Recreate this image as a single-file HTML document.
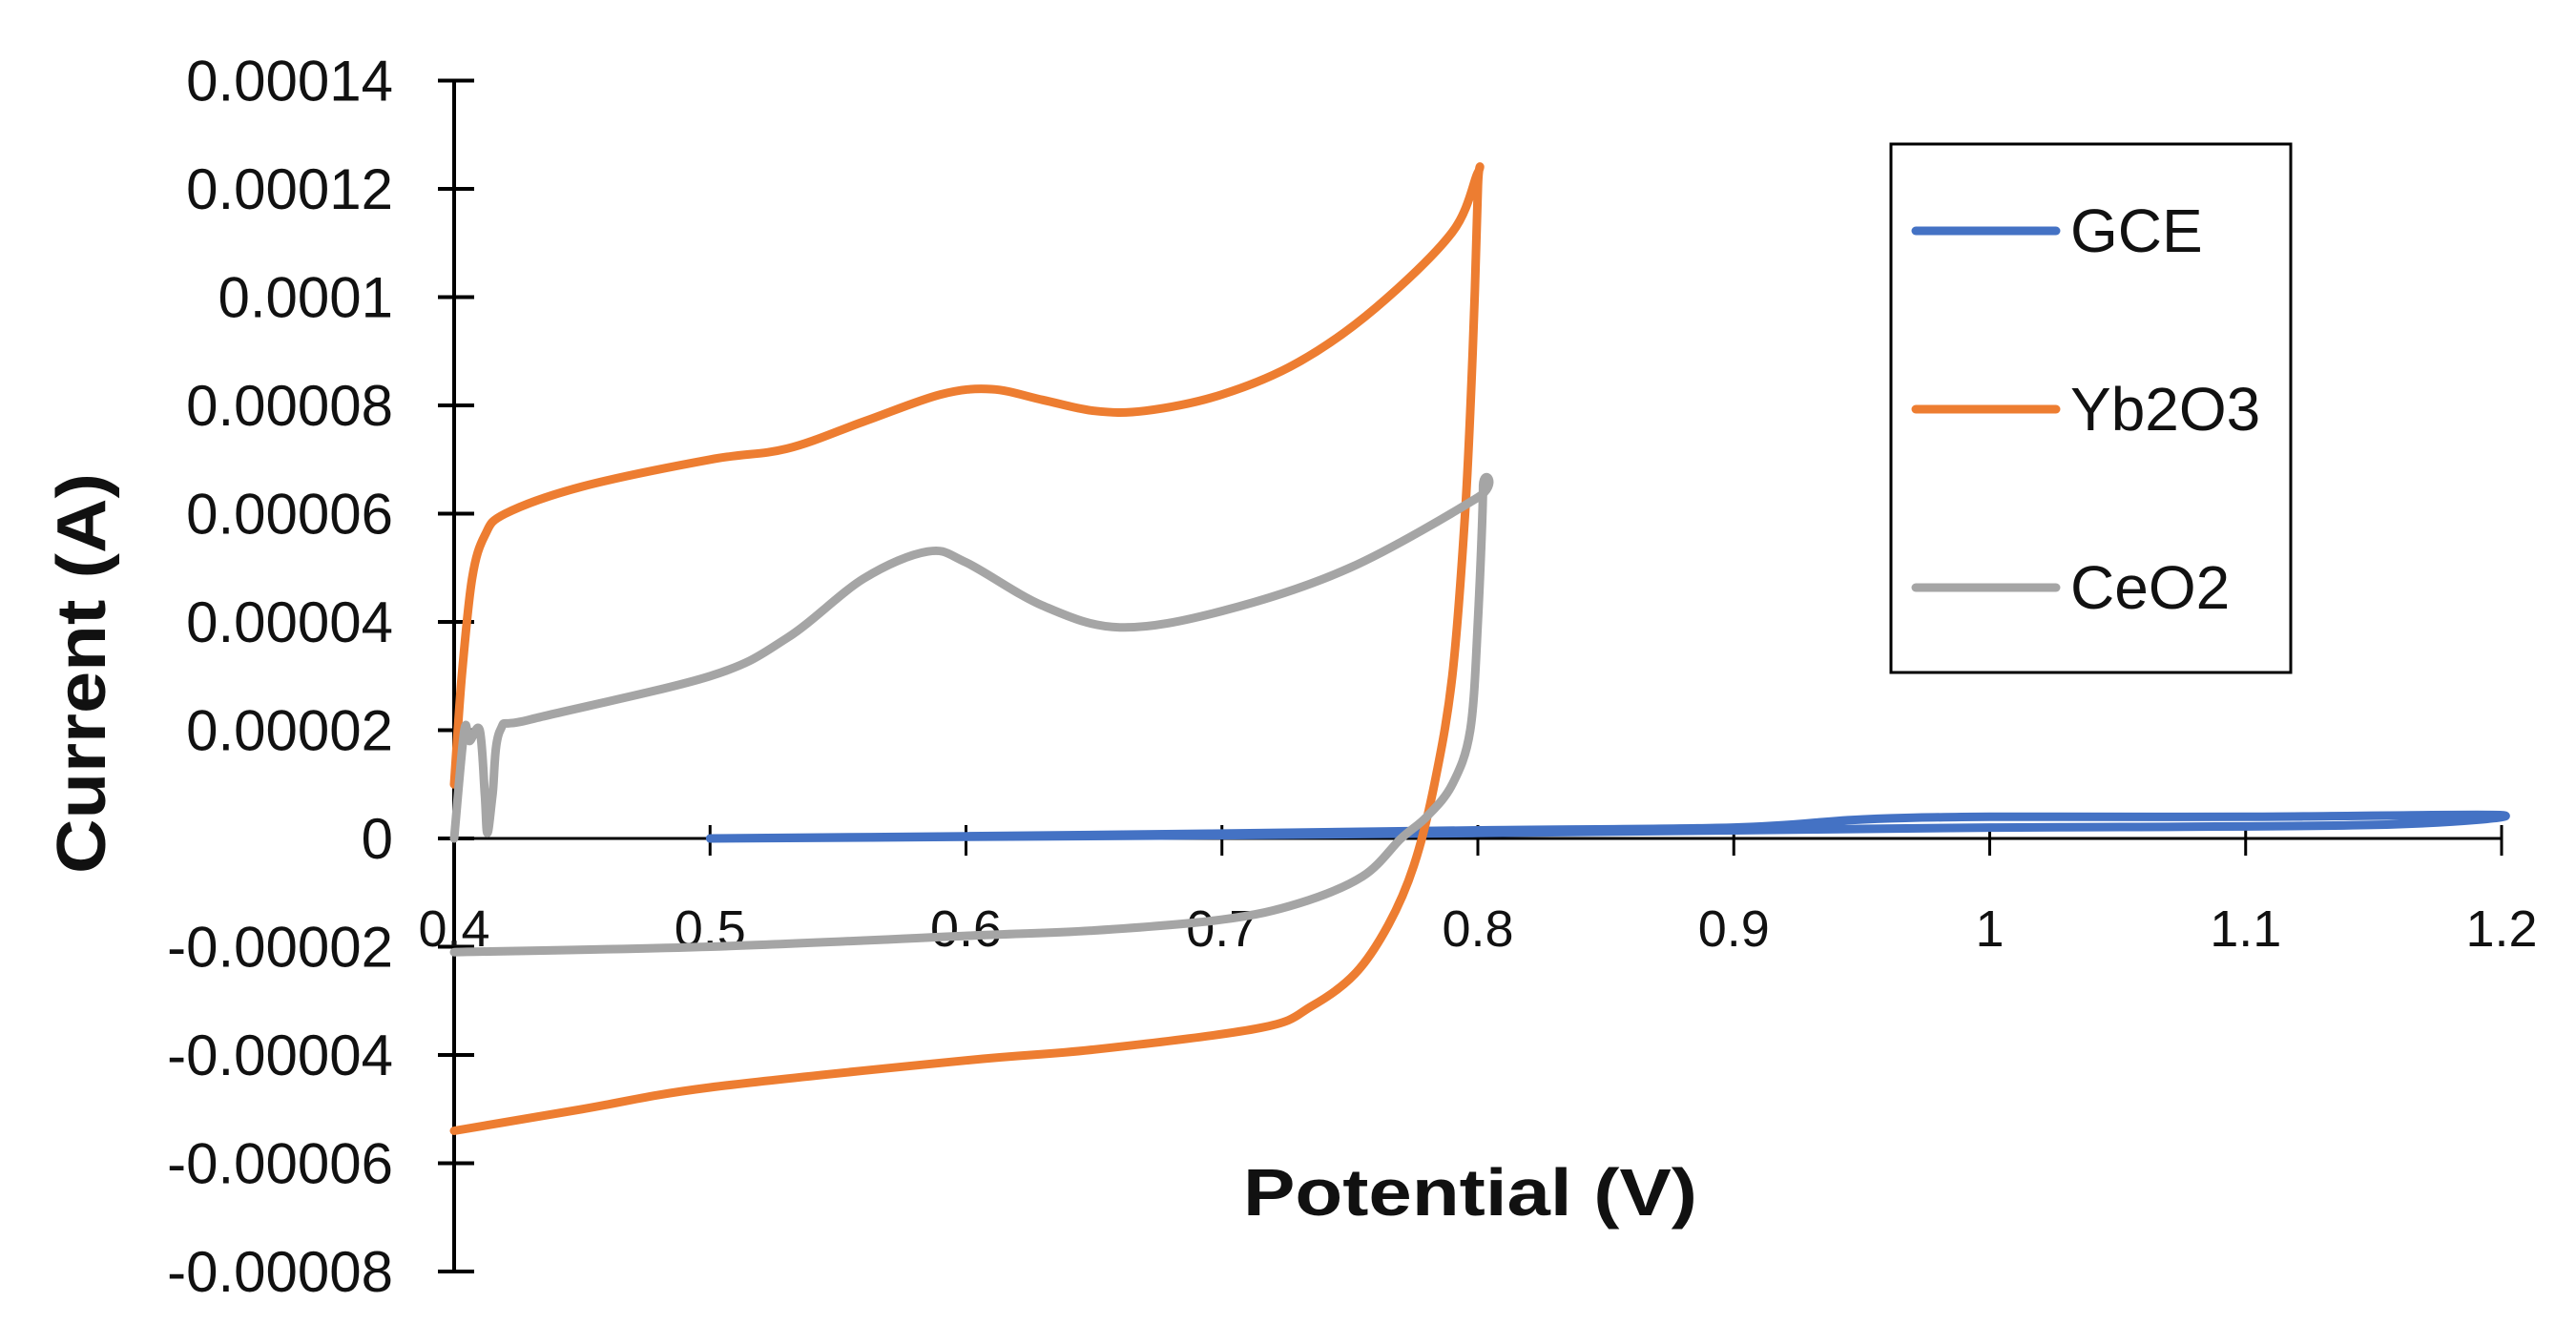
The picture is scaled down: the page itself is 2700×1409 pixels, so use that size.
<!DOCTYPE html>
<html><head><meta charset="utf-8">
<style>
html,body{margin:0;padding:0;background:#fff;}
svg{display:block;}
text{font-family:"Liberation Sans",sans-serif;fill:#111;}
</style></head>
<body>
<svg id="chart" width="2700" height="1409" viewBox="0 0 2700 1409">
<g id="axes"></g>
<g id="series"></g>
<text transform="translate(110,706) rotate(-90)" text-anchor="middle" font-size="72" font-weight="bold" textLength="420" lengthAdjust="spacingAndGlyphs">Current (A)</text>
<text x="1541" y="1274" text-anchor="middle" font-size="70" font-weight="bold" textLength="476" lengthAdjust="spacingAndGlyphs">Potential (V)</text>
<g>
<rect x="1982" y="151" width="419" height="554" fill="#fff" stroke="#000" stroke-width="3"/>
<g><line x1="2008" y1="242" x2="2155" y2="242" stroke="#4472C4" stroke-width="9" stroke-linecap="round"/><text x="2170" y="264" font-size="64">GCE</text></g>
<g><line x1="2008" y1="429" x2="2155" y2="429" stroke="#ED7D31" stroke-width="9" stroke-linecap="round"/><text x="2170" y="451" font-size="64">Yb2O3</text></g>
<g><line x1="2008" y1="616" x2="2155" y2="616" stroke="#A5A5A5" stroke-width="9" stroke-linecap="round"/><text x="2170" y="638" font-size="64">CeO2</text></g>
</g>
</svg>
<script>
const xTicks=[0.4,0.5,0.6,0.7,0.8,0.9,1,1.1,1.2];
const xTickLabels=["0.4","0.5","0.6","0.7","0.8","0.9","1","1.1","1.2"];
const yTicks=[0.00014,0.00012,0.0001,0.00008,0.00006,0.00004,0.00002,0,-0.00002,-0.00004,-0.00006,-0.00008];
const yTickLabels=["0.00014","0.00012","0.0001","0.00008","0.00006","0.00004","0.00002","0","-0.00002","-0.00004","-0.00006","-0.00008"];
const gceX=[0.5,0.6,0.7,0.8,0.9,0.95,1.0,1.1,1.2,1.15,1.0,0.9,0.8,0.7,0.6,0.5];
const gceY=[0,0.0000004,0.0000009,0.0000015,0.000002,0.0000035,0.000004,0.000004,0.0000043,0.0000025,0.000002,0.0000015,0.000001,0.0000006,0.0000003,0];
const ybX=[0.4,0.403,0.407,0.412,0.42,0.45,0.5,0.53,0.56,0.59,0.61,0.63,0.65,0.67,0.7,0.73,0.76,0.79,0.8,0.8,0.798,0.795,0.79,0.783,0.775,0.765,0.752,0.735,0.715,0.65,0.6,0.5,0.45,0.4];
const ybY=[0.00001,0.00003,0.000048,0.000056,0.00006,0.000065,0.00007,0.000072,0.000077,0.000082,0.000083,0.000081,0.000079,0.000079,0.000082,0.000088,0.000098,0.000112,0.000123,0.00012,0.00009,0.00006,0.00003,0.00001,-0.000005,-0.000016,-0.000025,-0.000031,-0.000035,-0.000039,-0.000041,-0.000046,-0.00005,-0.000054];
const ceX=[0.4,0.404,0.406,0.41,0.412,0.413,0.415,0.418,0.43,0.5,0.53,0.56,0.585,0.6,0.63,0.66,0.7,0.75,0.8,0.802,0.8,0.797,0.79,0.78,0.77,0.755,0.73,0.7,0.65,0.6,0.5,0.4];
const ceY=[0,0.00002,0.000018,0.00002,0.000008,0.000001,0.000008,0.00002,0.000022,0.00003,0.000037,0.000048,0.000053,0.000051,0.000043,0.000039,0.000042,0.00005,0.000063,0.000065,0.00004,0.00002,0.00001,0.000004,0,-0.000007,-0.000012,-0.000015,-0.000017,-0.000018,-0.00002,-0.000021];
const X0=476,X1=2622,Y0=879,YS=113.5/0.00002;
function sx(v){return X0+(v-0.4)/0.8*(X1-X0);}
function sy(v){return Y0-v*YS;}
const NS="http://www.w3.org/2000/svg";
const axes=document.getElementById('axes'),ser=document.getElementById('series');
function mk(tag,attrs,parent){const e=document.createElementNS(NS,tag);for(const k in attrs)e.setAttribute(k,attrs[k]);parent.appendChild(e);return e;}
let ya=mk('line',{x1:X0,y1:sy(0.00014),x2:X0,y2:sy(-0.00008),stroke:'#000','stroke-width':4},axes);


let xa=mk('line',{x1:X0,y1:Y0,x2:X1,y2:Y0,stroke:'#000','stroke-width':3},axes);


yTicks.forEach((v,i)=>{
 let t=mk('line',{x1:459,y1:sy(v),x2:497,y2:sy(v),stroke:'#000','stroke-width':4},axes);
 
 
 let l=mk('text',{x:412,y:sy(v)+21,'text-anchor':'end','font-size':60},axes);
 l.textContent=yTickLabels[i];
 
 
});
xTicks.forEach((v,i)=>{
 let t=mk('line',{x1:sx(v),y1:Y0-14,x2:sx(v),y2:Y0+18,stroke:'#000','stroke-width':3},axes);
 
 
 let l=mk('text',{x:sx(v),y:992,'text-anchor':'middle','font-size':54},axes);
 l.textContent=xTickLabels[i];
 
 
});
function path(xs,ys,color,name){
 const P=xs.map((x,i)=>[sx(x),sy(ys[i])]);
 let d='M'+P[0][0].toFixed(1)+' '+P[0][1].toFixed(1);
 for(let i=0;i<P.length-1;i++){
  const p0=P[Math.max(0,i-1)],p1=P[i],p2=P[i+1],p3=P[Math.min(P.length-1,i+2)];
  const c1=[p1[0]+(p2[0]-p0[0])/6,p1[1]+(p2[1]-p0[1])/6];
  const c2=[p2[0]-(p3[0]-p1[0])/6,p2[1]-(p3[1]-p1[1])/6];
  d+=' C'+c1[0].toFixed(1)+' '+c1[1].toFixed(1)+' '+c2[0].toFixed(1)+' '+c2[1].toFixed(1)+' '+p2[0].toFixed(1)+' '+p2[1].toFixed(1);
 }
 let p=mk('path',{d:d,fill:'none',stroke:color,'stroke-width':9,'stroke-linejoin':'round','stroke-linecap':'round'},ser);
 
 
}
path(gceX,gceY,'#4472C4','gce-line');
path(ybX,ybY,'#ED7D31','yb2o3-line');
path(ceX,ceY,'#A5A5A5','ceo2-line');
</script>
</body></html>
